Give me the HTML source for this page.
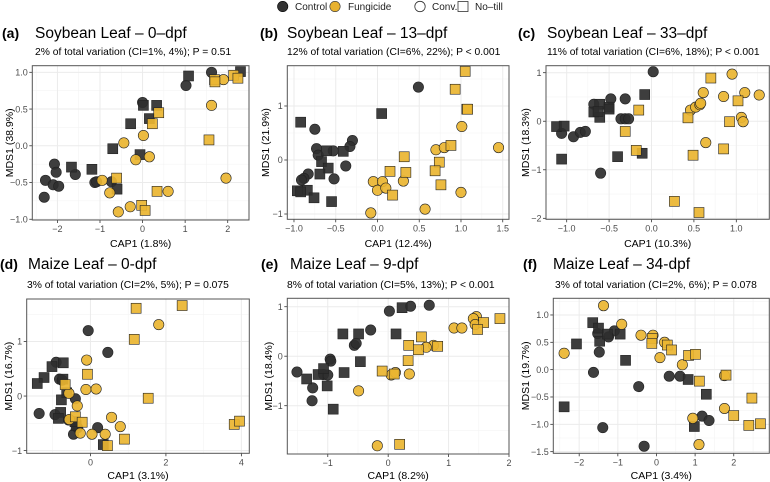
<!DOCTYPE html>
<html><head><meta charset="utf-8">
<style>
html,body{margin:0;padding:0;background:#fff;}
svg{display:block;font-family:"Liberation Sans",Arial,sans-serif;}
</style></head>
<body>
<svg id="fig" width="770" height="482" viewBox="0 0 770 482" xmlns="http://www.w3.org/2000/svg">
<g>
  <circle cx="282.7" cy="6.5" r="5.2" fill="#333" stroke="#000" stroke-width="0.6"/>
  <text x="295" y="10" font-size="10" fill="#222">Control</text>
  <circle cx="335" cy="6.5" r="5.2" fill="#E8B230" stroke="#333" stroke-width="0.6"/>
  <text x="348" y="10" font-size="10" fill="#222">Fungicide</text>
  <circle cx="420" cy="6.5" r="5.2" fill="#fff" stroke="#333" stroke-width="0.8"/>
  <text x="432" y="10" font-size="10" fill="#222">Conv.</text>
  <rect x="458" y="1.5" width="10" height="10" fill="#fff" stroke="#333" stroke-width="0.8"/>
  <text x="475" y="10" font-size="10" fill="#222">No–till</text>
</g>
</svg>
<script>
// ---- Panel (a) data ----
const aCtrlConv=[[1.62,1.0],[1.02,0.82],[0,0.59],[-2.07,-0.25],[-2.03,-0.36],[-1.58,-0.39],[-2.28,-0.47],[-2.1,-0.53],[-1.97,-0.55],[-2.31,-0.7],[-1.12,-0.5],[-1.08,-0.49],[-0.73,-0.49]];
const aCtrlNT=[[1.08,0.95],[2.3,1.01],[0.02,0.55],[0.33,0.55],[0.16,0.37],[-0.28,0.3],[-0.7,-0.04],[-0.06,-0.12],[-1.67,-0.29],[-1.19,-0.32],[-0.6,-0.59]];
const aFungConv=[[1.9,0.9],[1.62,0.55],[1.96,-0.44],[0.02,0.14],[-0.44,0.04],[-0.16,-0.19],[0.16,-0.15],[-0.95,-0.47],[-0.77,-0.64],[0.6,-0.62],[-0.29,-0.83],[-0.57,-0.9]];
const aFungNT=[[2.14,0.96],[2.24,0.92],[1.69,0.9],[1.7,0.87],[0.38,0.45],[0.23,0.3],[1.56,0.08],[-0.61,-0.44],[0.34,-0.62],[-0.02,-0.81],[0.06,-0.88]];
const aXTicks=[-2,-1,0,1,2]; const aXLabels=["−2","−1","0","1","2"];
const aYTicks=[-1,-0.5,0,0.5,1]; const aYLabels=["−1.0","−0.5","0.0","0.5","1.0"];
// ---- Panel (b) data ----
const bCtrlConv=[[0.49,1.35],[-0.75,0.57],[-0.73,0.21],[-0.71,0.09],[-0.53,0.17],[-0.3,0.36],[-0.33,0.25],[-0.38,-0.11],[-0.52,-0.35],[-0.83,-0.26],[-0.88,-0.34],[-0.91,-0.37]];
const bCtrlNT=[[-0.92,0.7],[0.05,0.86],[-0.61,0.17],[-0.41,0.16],[-0.67,-0.03],[-0.59,-0.15],[-0.69,-0.26],[-0.84,-0.56],[-0.96,-0.57],[-0.92,-0.59],[-0.76,-0.7],[-0.55,-0.77]];
const bFungConv=[[1.01,0.62],[1.45,0.23],[0.7,0.19],[0.8,0.23],[-0.05,-0.4],[0.06,-0.4],[0.0,-0.56],[0.1,-0.52],[0.31,-0.39],[1.0,-0.6],[0.57,-0.91],[-0.08,-0.98]];
const bFungNT=[[1.05,1.64],[0.93,1.31],[1.07,0.94],[1.08,0.94],[0.88,0.27],[0.32,0.06],[0.74,-0.04],[0.15,-0.21],[0.34,-0.23],[0.69,-0.2],[0.76,-0.46],[0.18,-0.65]];
const bXTicks=[-1,-0.5,0,0.5,1,1.5]; const bXLabels=["−1.0","−0.5","0.0","0.5","1.0","1.5"];
const bYTicks=[-1,0,1]; const bYLabels=["−1","0","1"];
// ---- Panel (c) data ----
const cCtrlConv=[[0.02,1.02],[-0.48,0.46],[-0.31,0.46],[-0.68,0.35],[-0.36,0.05],[-0.31,0.05],[-0.27,0.05],[-1.06,-0.25],[-0.92,-0.32],[-0.84,-0.23],[-0.78,-0.21],[-0.6,-1.07]];
const cCtrlNT=[[-0.08,0.55],[-0.61,0.35],[-0.68,0.19],[-0.5,0.29],[-0.5,0.25],[-0.61,0.08],[-0.63,0.2],[-1.12,-0.11],[-1.03,-0.1],[-1.06,-0.78],[-0.4,-0.73],[-0.11,-0.66]];
const cFungConv=[[0.95,0.97],[1.1,0.59],[1.27,0.54],[0.61,0.59],[0.85,0.51],[0.46,0.23],[0.52,0.29],[0.57,0.34],[0.58,0.37],[1.06,0.08],[1.08,-0.01],[0.64,-0.44]];
const cFungNT=[[0.7,0.89],[1.02,0.42],[-0.15,0.23],[0.43,0.07],[0.92,-0.01],[-0.31,-0.21],[-0.18,-0.6],[0.85,-0.57],[0.49,-0.7],[0.27,-1.65],[0.56,-1.88]];
const cXTicks=[-1,-0.5,0,0.5,1]; const cXLabels=["−1.0","−0.5","0.0","0.5","1.0"];
const cYTicks=[-2,-1,0,1]; const cYLabels=["−2","−1","0","1"];
// ---- Panel (d) data ----
const dCtrlConv=[[-0.06,1.2],[0.46,0.8],[-0.91,0.62],[-0.82,0.31],[-0.75,0.29],[-0.4,-0.05],[-1.36,-0.32],[-0.94,-0.34],[-0.58,-0.44],[0.19,-0.58],[-0.45,-0.7],[-0.34,-0.58]];
const dCtrlNT=[[-0.72,0.61],[-1.02,0.54],[-1.23,0.34],[-1.41,0.23],[-0.73,0.31],[-0.63,0.06],[-0.77,-0.07],[-0.79,-0.3],[-0.85,-0.41],[-0.38,-0.54],[0.34,-0.89],[-0.41,-0.47]];
const dFungConv=[[1.81,1.31],[-0.1,0.66],[-0.12,0.12],[0.15,0.13],[-0.57,0.05],[-0.35,-0.18],[0.56,-0.39],[0.79,-0.56],[-0.27,-0.68],[0.04,-0.7],[0.39,-0.7],[-0.56,-0.43]];
const dFungNT=[[1.21,1.61],[2.43,1.66],[1.16,1.04],[-0.08,0.4],[-0.67,0.21],[1.53,-0.04],[-0.4,-0.38],[-0.22,-0.48],[0.9,-0.79],[0.45,-0.91],[3.81,-0.52],[3.95,-0.46]];
const dXTicks=[0,2,4]; const dXLabels=["0","2","4"];
const dYTicks=[-1,0,1]; const dYLabels=["−1","0","1"];
// ---- Panel (e) data ----
const eCtrlConv=[[0.68,1.03],[0.37,1.01],[0.02,0.91],[-0.29,0.53],[-0.56,0.22],[-0.53,0.26],[-0.96,-0.06],[-0.95,-0.1],[-1.51,-0.32],[-1.07,-0.37],[-1.0,-0.38],[-1.25,-0.64],[-1.26,-0.9]];
const eCtrlNT=[[0.23,0.98],[-0.75,0.45],[-0.49,0.45],[0.13,0.45],[-0.46,-0.11],[-0.73,-0.33],[-1.16,-0.37],[-1.07,-0.25],[-1.35,-0.46],[-1.01,-0.6],[-0.91,-1.07]];
const eFungConv=[[1.46,0.8],[1.41,0.76],[1.44,0.64],[1.09,0.57],[1.22,0.57],[0.75,0.22],[0.63,0.18],[0.05,-0.38],[0.12,-0.33],[0.35,-0.36],[-0.49,-0.7],[-0.18,-1.81]];
const eFungNT=[[1.85,0.76],[1.58,0.68],[1.48,0.54],[0.55,0.39],[0.34,0.22],[0.5,0.13],[0.82,0.2],[0.33,-0.09],[-0.1,-0.3],[0.1,-0.36],[0.19,-1.78]];
const eXTicks=[-1,0,1,2]; const eXLabels=["−1","0","1","2"];
const eYTicks=[-1,0,1]; const eYLabels=["−1","0","1"];
// ---- Panel (f) data ----
const fCtrlConv=[[-1.09,0.71],[-1.52,0.66],[-1.24,0.6],[-1.48,0.32],[-1.63,-0.05],[-0.46,-0.31],[0.33,-0.12],[0.61,-0.12],[1.18,-0.85],[1.36,-0.93],[-1.39,-1.06],[-0.32,-1.4]];
const fCtrlNT=[[-1.65,0.86],[-1.5,0.76],[-1.47,0.52],[-1.27,0.65],[-0.94,0.65],[-2.07,0.47],[-0.8,0.17],[0.82,-0.18],[1.29,-0.45],[0.98,-1.04],[-2.39,-0.68]];
const fFungConv=[[-1.37,1.17],[-0.9,0.83],[-0.4,0.63],[-0.09,0.63],[0.21,0.5],[0.09,0.22],[0.67,0.09],[1.76,-0.11],[1.76,-0.71],[0.94,-0.89],[1.1,-1.37],[-2.39,0.3]];
const fFungNT=[[-0.11,0.57],[-0.12,0.48],[0.28,0.45],[0.39,0.36],[0.83,0.26],[1.01,0.28],[1.11,-0.21],[1.8,-0.1],[2.47,-0.52],[2.0,-0.84],[2.39,-1.02],[2.69,-0.99]];
const fXTicks=[-2,-1,0,1,2]; const fXLabels=["−2","−1","0","1","2"];
const fYTicks=[-1.5,-1,-0.5,0,0.5,1]; const fYLabels=["−1.5","−1.0","−0.5","0.0","0.5","1.0"];

const NS="http://www.w3.org/2000/svg";
const svg=document.getElementById('fig');
function mk(tag,attrs,parent){const e=document.createElementNS(NS,tag);for(const k in attrs)e.setAttribute(k,attrs[k]);(parent||svg).appendChild(e);return e;}

const panels=[
 {id:'a',letter:'(a)',title:'Soybean Leaf – 0–dpf',sub:'2% of total variation (CI=1%, 4%); P = 0.51',xl:'CAP1 (1.8%)',yl:'MDS1 (38.9%)',
  box:[32.3,65.7,249,220],xd:[-2.59,2.5],yd:[-1.01,1.09],lx:2,tx:35,sx:35,ytx:9,ty:[38,55,247],
  cc:aCtrlConv,cn:aCtrlNT,fc:aFungConv,fn:aFungNT,xt:aXTicks,xtl:aXLabels,yt:aYTicks,ytl:aYLabels},
 {id:'b',letter:'(b)',title:'Soybean Leaf – 13–dpf',sub:'12% of total variation (CI=6%, 22%); P < 0.001',xl:'CAP1 (12.4%)',yl:'MDS1 (21.9%)',
  box:[287.3,65.7,509,219.3],xd:[-1.08,1.575],yd:[-1.098,1.746],lx:260,tx:287,sx:287,ytx:265,ty:[38,55,247],
  cc:bCtrlConv,cn:bCtrlNT,fc:bFungConv,fn:bFungNT,xt:bXTicks,xtl:bXLabels,yt:bYTicks,ytl:bYLabels},
 {id:'c',letter:'(c)',title:'Soybean Leaf – 33–dpf',sub:'11% of total variation (CI=6%, 18%); P < 0.001',xl:'CAP1 (10.3%)',yl:'MDS1 (18.3%)',
  box:[546,65.7,769.3,219.3],xd:[-1.244,1.389],yd:[-2.02,1.144],lx:518,tx:547,sx:547,ytx:525,ty:[38,55,247],
  cc:cCtrlConv,cn:cCtrlNT,fc:cFungConv,fn:cFungNT,xt:cXTicks,xtl:cXLabels,yt:cYTicks,ytl:cYLabels},
 {id:'d',letter:'(d)',title:'Maize Leaf – 0-dpf',sub:'3% of total variation (CI=2%, 5%); P = 0.075',xl:'CAP1 (3.1%)',yl:'MDS1 (16.7%)',
  box:[26.7,299,249.3,453.3],xd:[-1.69,4.21],yd:[-1.05,1.78],lx:0,tx:28,sx:27,ytx:8,ty:[269,288,479],
  cc:dCtrlConv,cn:dCtrlNT,fc:dFungConv,fn:dFungNT,xt:dXTicks,xtl:dXLabels,yt:dYTicks,ytl:dYLabels},
 {id:'e',letter:'(e)',title:'Maize Leaf – 9-dpf',sub:'8% of total variation (CI=5%, 13%); P < 0.001',xl:'CAP1 (8.2%)',yl:'MDS1 (18.4%)',
  box:[287.3,298.3,509,454],xd:[-1.67,2.0],yd:[-1.976,1.17],lx:261,tx:290,sx:287,ytx:268,ty:[269,288,479],
  cc:eCtrlConv,cn:eCtrlNT,fc:eFungConv,fn:eFungNT,xt:eXTicks,xtl:eXLabels,yt:eYTicks,ytl:eYLabels},
 {id:'f',letter:'(f)',title:'Maize Leaf – 34-dpf',sub:'3% of total variation (CI=2%, 6%); P = 0.078',xl:'CAP1 (3.4%)',yl:'MDS1 (19.7%)',
  box:[553.3,298.3,769.3,453.3],xd:[-2.67,2.92],yd:[-1.53,1.305],lx:523,tx:553,sx:555,ytx:525,ty:[269,288,479],
  cc:fCtrlConv,cn:fCtrlNT,fc:fFungConv,fn:fFungNT,xt:fXTicks,xtl:fXLabels,yt:fYTicks,ytl:fYLabels}
];

panels.forEach(p=>{
  const [L,T,R,B]=p.box;
  const sx=v=>L+(v-p.xd[0])/(p.xd[1]-p.xd[0])*(R-L);
  const sy=v=>B-(v-p.yd[0])/(p.yd[1]-p.yd[0])*(B-T);
  const g=mk('g',{});
  
  
  const t1=mk('text',{x:p.lx,y:p.ty[0],'font-size':14,'font-weight':'bold',fill:'#000'},g);t1.textContent=p.letter;
  
  
  const t2=mk('text',{x:p.tx,y:p.ty[0],'font-size':15.5,fill:'#000'},g);t2.textContent=p.title;
  
  
  const t3=mk('text',{x:p.sx,y:p.ty[1],'font-size':10.3,fill:'#000'},g);t3.textContent=p.sub;
  
  
  const bg=mk('rect',{x:L,y:T,width:R-L,height:B-T,fill:'#fff'},g);
  
  
  function minors(ticks,dom){const s=ticks[1]-ticks[0];const out=[];for(let v=ticks[0]-s/2;v<=dom[1];v+=s){if(v>=dom[0])out.push(v);}return out;}
  minors(p.xt,p.xd).forEach(v=>{const l=mk('line',{x1:sx(v),x2:sx(v),y1:T,y2:B,stroke:'#f2f2f2','stroke-width':0.5},g);});
  minors(p.yt,p.yd).forEach(v=>{const l=mk('line',{y1:sy(v),y2:sy(v),x1:L,x2:R,stroke:'#f2f2f2','stroke-width':0.5},g);});
  p.xt.forEach((v,i)=>{
    const l=mk('line',{x1:sx(v),x2:sx(v),y1:T,y2:B,stroke:'#ebebeb','stroke-width':1},g);
    
    
    mk('line',{x1:sx(v),x2:sx(v),y1:B,y2:B+3,stroke:'#333','stroke-width':0.8},g);
    const t=mk('text',{x:sx(v),y:B+12,'font-size':9,fill:'#4d4d4d','text-anchor':'middle'},g);t.textContent=p.xtl[i];
    
    
  });
  p.yt.forEach((v,i)=>{
    const l=mk('line',{y1:sy(v),y2:sy(v),x1:L,x2:R,stroke:'#ebebeb','stroke-width':1},g);
    
    
    mk('line',{x1:L-3,x2:L,y1:sy(v),y2:sy(v),stroke:'#333','stroke-width':0.8},g);
    const t=mk('text',{x:L-4.5,y:sy(v)+3.2,'font-size':9,fill:'#4d4d4d','text-anchor':'end'},g);t.textContent=p.ytl[i];
    
    
  });
  const xt=mk('text',{x:(L+R)/2,y:p.ty[2],'font-size':10.5,fill:'#000','text-anchor':'middle'},g);xt.textContent=p.xl;
  
  
  const cy=(T+B)/2;
  const yt=mk('text',{x:p.ytx+4,y:cy,'font-size':10.5,fill:'#000','text-anchor':'middle',transform:`rotate(-90 ${p.ytx+4} ${cy})`},g);yt.textContent=p.yl;
  
  
  const pts=mk('g',{},g);
  
  
  function draw(arr,col,shape,name){
    arr.forEach(d=>{
      let e;
      if(shape==='c') e=mk('circle',{cx:sx(d[0]),cy:sy(d[1]),r:5.2,fill:col,'fill-opacity':0.92,stroke:'#222','stroke-width':0.6},pts);
      else e=mk('rect',{x:sx(d[0])-5,y:sy(d[1])-5,width:10,height:10,fill:col,'fill-opacity':0.92,stroke:'#222','stroke-width':0.6},pts);
      
      
    });
  }
  draw(p.cc,'#2e2e2e','c','point-control-conv');
  draw(p.cn,'#2e2e2e','s','point-control-notill');
  draw(p.fc,'#EAB531','c','point-fungicide-conv');
  draw(p.fn,'#EAB531','s','point-fungicide-notill');
  const fr=mk('rect',{x:L,y:T,width:R-L,height:B-T,fill:'none',stroke:'#555','stroke-width':1},g);
  
  
});
</script>
</body></html>
